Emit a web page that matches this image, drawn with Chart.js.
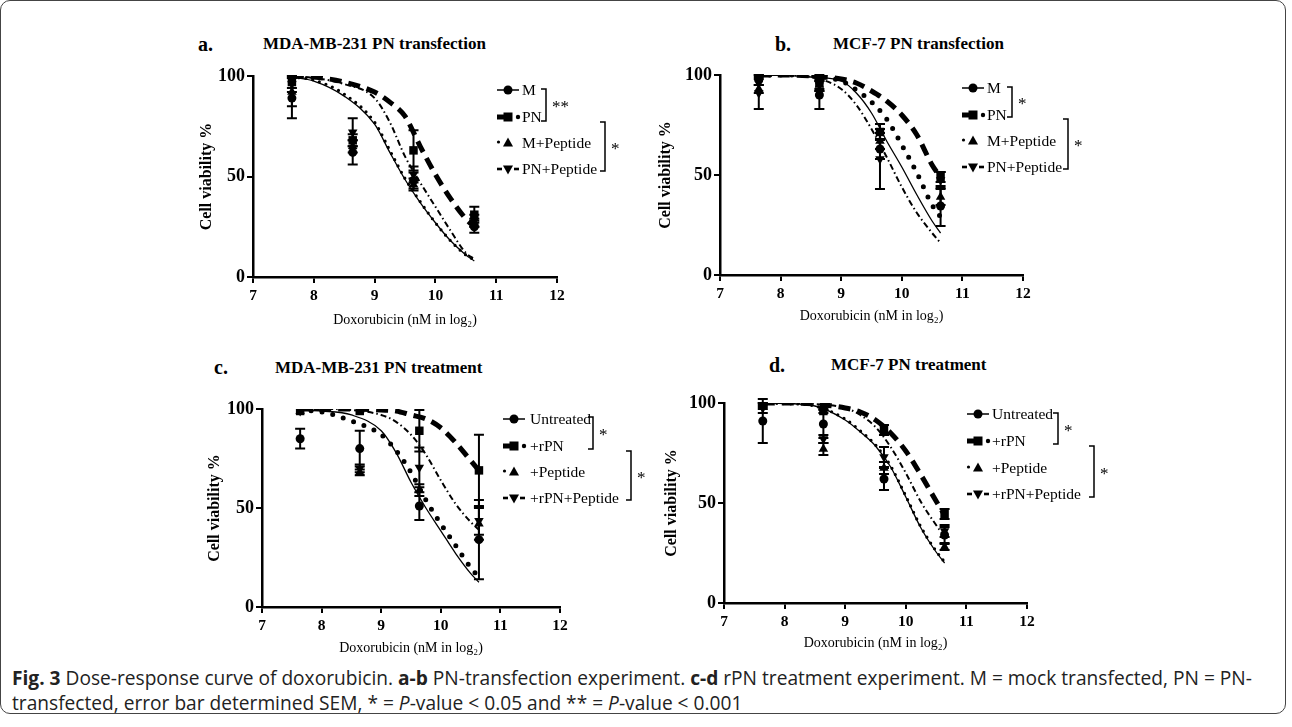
<!DOCTYPE html>
<html><head><meta charset="utf-8">
<script src="https://cdn.jsdelivr.net/npm/chart.js@4.4.0/dist/chart.umd.min.js"></script>
<style>
html,body{margin:0;padding:0;background:#fff;}
body{width:1292px;height:727px;position:relative;overflow:hidden;}
canvas{position:absolute;}
.ptitle{position:absolute;font-family:"Liberation Serif",serif;font-weight:bold;font-size:17px;white-space:nowrap;line-height:20px;height:20px;color:#000;}
.plet{position:absolute;font-family:"Liberation Serif",serif;font-weight:bold;font-size:20px;line-height:20px;height:20px;color:#000;}
#frame{position:absolute;left:0px;top:0px;width:1286px;height:714px;border:1px solid #444;border-radius:10px;box-sizing:border-box;}
.cap{position:absolute;left:12px;font-family:"Open Sans","Noto Sans",sans-serif;white-space:nowrap;color:#222;line-height:22px;font-size:15px;}
</style></head><body>
<div id="frame"></div>
<div class="plet" style="left:198px;top:34px">a.</div>
<div class="ptitle" style="left:263px;top:34px">MDA-MB-231 PN transfection</div>
<div class="plet" style="left:775px;top:34px">b.</div>
<div class="ptitle" style="left:833px;top:34px">MCF-7 PN transfection</div>
<div class="plet" style="left:214px;top:357px">c.</div>
<div class="ptitle" style="left:275px;top:358px">MDA-MB-231 PN treatment</div>
<div class="plet" style="left:769px;top:355px">d.</div>
<div class="ptitle" style="left:831px;top:355px">MCF-7 PN treatment</div>
<canvas id="ca"></canvas><canvas id="cb"></canvas><canvas id="cc"></canvas><canvas id="cd"></canvas>
<div class="cap" id="cap1" style="top:667px"><b>Fig. 3</b> Dose-response curve of doxorubicin. <b>a-b</b> PN-transfection experiment. <b>c-d</b> rPN treatment experiment. M = mock transfected, PN = PN-</div>
<div class="cap" id="cap2" style="top:692px">transfected, error bar determined SEM, * = <i>P</i>-value &lt; 0.05 and ** = <i>P</i>-value &lt; 0.001</div>
<script>
// ---------- DATA ----------
const doseX = [7.64, 8.64, 9.64, 10.64];
const curveX = [7.64, 8.0, 8.5, 9.0, 9.25, 9.5, 9.75, 10.0, 10.25, 10.5, 10.64];
const xTickValues = [7, 8, 9, 10, 11, 12];
const yTickValues = [0, 50, 100];
const xTitle = 'Doxorubicin (nM in log\u2082)';
const yTitle = 'Cell viability %';

// Panel a: MDA-MB-231 PN transfection
const aLabels = ['M', 'PN', 'M+Peptide', 'PN+Peptide'];
const aM = [89, 62, 48, 25];      const aM_err = [10, 6, 4, 3];
const aPN = [97, 68, 63, 31];     const aPN_err = [3, 3, 10, 4];
const aMP = [92, 65, 46, 27];     const aMP_err = [7, 3, 3, 2];
const aPNP = [96, 72, 51, 28];    const aPNP_err = [4, 7, 4, 3];
const aM_fit = [99.5, 97.5, 90, 76, 62, 48.5, 37, 27, 18, 11, 8];
const aPN_fit = [100, 99.5, 97, 92, 87, 80, 65, 51, 39, 29, 25];
const aMP_fit = [99.5, 98, 91, 77, 63, 49, 37.5, 27, 18, 11, 8.5];
const aPNP_fit = [100, 99, 96, 89, 77, 60, 47, 35, 23, 12, 9];

// Panel b: MCF-7 PN transfection
const bLabels = ['M', 'PN', 'M+Peptide', 'PN+Peptide'];
const bM = [97.5, 90, 63, 34.5];  const bM_err = [2.5, 7, 5, 10];
const bPN = [99, 96, 71.5, 49];   const bPN_err = [1, 4, 4, 2.5];
const bMP = [93, 95, 67, 39];     const bMP_err = [2, 2, 4, 4];
const bPNP = [91, 95, 58, 47.5];  const bPNP_err = [8, 3, 15, 4];
const bM_fit = [100, 99.8, 99, 97, 91, 81, 67, 54, 40, 27, 21];
const bPN_fit = [100, 100, 99.5, 98, 96, 92, 87, 80, 70, 55, 49];
const bMP_fit = [100, 100, 99.5, 97, 92.5, 86.5, 78, 65, 51, 35, 29];
const bPNP_fit = [100, 100, 99, 93, 85, 73, 59, 44, 31, 21, 16];

// Panel c: MDA-MB-231 PN treatment
const cLabels = ['Untreated', '+rPN', '+Peptide', '+rPN+Peptide'];
const cU = [85, 80, 51, 34];      const cU_err = [5, 9, 7, 20];
const crPN = [99, 99, 89, 69];    const crPN_err = [0, 0, 10.5, 18];
const cP = [99, 68, 59, 42];      const cP_err = [0, 1.5, 3, 8];
const crPNP = [99, 70, 70.5, 43.5]; const crPNP_err = [0, 2, 10, 7];
const cU_fit = [99.5, 99, 97, 89, 78, 63, 50, 38.5, 27, 17, 12.5];
const crPN_fit = [100, 100, 100, 99.5, 99, 97, 95, 90.5, 83, 74, 69];
const cP_fit = [99.5, 98.5, 94, 87, 79, 68, 54, 42, 31, 20, 15];
const crPNP_fit = [100, 100, 99.5, 97, 93.5, 87, 77, 64, 52, 43, 39];

// Panel d: MCF-7 PN treatment
const dLabels = ['Untreated', '+rPN', '+Peptide', '+rPN+Peptide'];
const dU = [91, 89.5, 62, 34];    const dU_err = [11, 7, 5.5, 4];
const drPN = [99, 96, 86.5, 44.5]; const drPN_err = [1, 1, 2.5, 2.5];
const dP = [98, 77, 67.5, 28];    const dP_err = [1, 3, 3, 1.5];
const drPNP = [97.5, 82, 73, 36]; const drPNP_err = [2.5, 2, 5, 3];
const dU_fit = [100, 99.7, 98.5, 91.5, 85.5, 78.5, 68, 53, 37.5, 25.5, 20];
const drPN_fit = [100, 100, 99.5, 97.5, 95.5, 91.5, 85, 76, 64, 51, 44];
const dP_fit = [100, 99.7, 98.5, 92, 86, 79, 68.5, 53.5, 38, 26, 20.5];
const drPNP_fit = [100, 100, 99.5, 97.5, 94, 88, 78, 65, 50.5, 39, 33];

// ---------- STYLES ----------
const SERIF = '"Liberation Serif", "Times New Roman", serif';
function lineStyles(bigDots) {
  return {
    solid:   {lw: 1.3, dash: [], cap: 'butt'},
    dash:    {lw: 5, dash: [12, 7], cap: 'butt'},
    dot:     bigDots ? {lw: 5, dash: [0, 11], cap: 'round'} : {lw: 3.2, dash: [0, 7], cap: 'round'},
    dashdot: {lw: 2, dash: [6, 3, 1.5, 3], cap: 'butt'}
  };
}
const markers = [
  {style: 'circle', rot: 0, r: 4.5, kind: 'circle'},
  {style: 'rect', rot: 0, r: 6, kind: 'rect'},
  {style: 'triangle', rot: 0, r: 5.5, kind: 'tri'},
  {style: 'triangle', rot: 180, r: 5.5, kind: 'tridown'}
];
const lineKinds = ['solid', 'dash', 'dot', 'dashdot'];

function drawMarker(ctx, kind, x, y) {
  ctx.beginPath();
  if (kind === 'circle') { ctx.arc(x, y, 4.5, 0, Math.PI * 2); }
  else if (kind === 'rect') { ctx.rect(x - 4.5, y - 4.5, 9, 9); }
  else if (kind === 'tri') { ctx.moveTo(x, y - 5.5); ctx.lineTo(x + 5, y + 3.5); ctx.lineTo(x - 5, y + 3.5); ctx.closePath(); }
  else { ctx.moveTo(x, y + 5.5); ctx.lineTo(x + 5, y - 3.5); ctx.lineTo(x - 5, y - 3.5); ctx.closePath(); }
  ctx.fill();
}

function legendSymbol(ctx, i, x0, y) {
  ctx.save();
  ctx.fillStyle = '#000'; ctx.strokeStyle = '#000';
  if (i === 0) {
    ctx.lineWidth = 1.5; ctx.beginPath(); ctx.moveTo(x0, y); ctx.lineTo(x0 + 22, y); ctx.stroke();
    drawMarker(ctx, 'circle', x0 + 11, y);
  } else if (i === 1) {
    ctx.fillRect(x0, y - 2.5, 8, 5);
    drawMarker(ctx, 'rect', x0 + 11, y);
    ctx.beginPath(); ctx.arc(x0 + 21, y, 2.2, 0, Math.PI * 2); ctx.fill();
  } else if (i === 2) {
    ctx.beginPath(); ctx.arc(x0 + 1.5, y - 1, 1.6, 0, Math.PI * 2); ctx.fill();
    drawMarker(ctx, 'tri', x0 + 11, y);
  } else {
    ctx.fillRect(x0, y - 1.3, 5, 2.6); ctx.fillRect(x0 + 17, y - 1.3, 5, 2.6);
    drawMarker(ctx, 'tridown', x0 + 11, y);
  }
  ctx.restore();
}

function decorPlugin(geo, deco) {
  return {
    id: 'decor',
    afterDatasetsDraw(chart) {
      const ctx = chart.ctx, xs = chart.scales.x, ys = chart.scales.y;
      ctx.save();
      ctx.strokeStyle = '#000'; ctx.lineWidth = 2;
      chart.data.datasets.forEach(ds => {
        if (!ds.yErr) return;
        ds.data.forEach((p, i) => {
          const e = ds.yErr[i]; if (!e) return;
          const px = xs.getPixelForValue(p.x);
          const y1 = ys.getPixelForValue(p.y + e), y2 = ys.getPixelForValue(p.y - e);
          ctx.beginPath();
          ctx.moveTo(px, y1); ctx.lineTo(px, y2);
          ctx.moveTo(px - 5, y1); ctx.lineTo(px + 5, y1);
          ctx.moveTo(px - 5, y2); ctx.lineTo(px + 5, y2);
          ctx.stroke();
        });
      });
      ctx.restore();
    },
    afterDraw(chart) {
      const ctx = chart.ctx;
      const ox = geo.L, oy = geo.T;
      ctx.save();
      ctx.font = '15.5px ' + SERIF; ctx.fillStyle = '#000'; ctx.textBaseline = 'middle'; ctx.textAlign = 'left';
      deco.labels.forEach((lab, i) => {
        const y = deco.rows[i] - oy;
        legendSymbol(ctx, i, deco.symX - ox, y);
        ctx.fillText(lab, deco.textX - ox, y + 1);
      });
      ctx.strokeStyle = '#000'; ctx.lineWidth = 1.5;
      deco.brackets.forEach(b => {
        ctx.beginPath();
        ctx.moveTo(b.x - 5 - ox, b.y1 - oy); ctx.lineTo(b.x - ox, b.y1 - oy);
        ctx.lineTo(b.x - ox, b.y2 - oy); ctx.lineTo(b.x - 5 - ox, b.y2 - oy);
        ctx.stroke();
        ctx.font = '17px ' + SERIF;
        ctx.fillText(b.star, b.x + 6 - ox, (b.y1 + b.y2) / 2 + 3 - oy);
      });
      ctx.restore();
    }
  };
}

function buildPanel(id, geo, labels, ys, errs, fits, bigDots, deco) {
  const canvas = document.getElementById(id);
  canvas.width = geo.W; canvas.height = geo.H;
  canvas.style.left = geo.L + 'px'; canvas.style.top = geo.T + 'px';
  const lhY = 16 * 1.2, lhX = 14 * 1.2;
  const padLeft = geo.yTitleX - geo.L - lhY / 2;
  const yW = (geo.l - geo.L) - padLeft;
  const padTop = geo.t - geo.T;
  const padRight = geo.L + geo.W - geo.r;
  const padBottom = geo.T + geo.H - geo.xTitleY - lhX / 2;
  const xH = (geo.T + geo.H - geo.b) - padBottom;
  const LS = lineStyles(bigDots);
  const datasets = [];
  labels.forEach((lab, k) => {
    const st = LS[lineKinds[k]];
    datasets.push({
      label: lab + ' fit', data: curveX.map((x, i) => ({x, y: fits[k][i]})),
      showLine: true, pointRadius: 0, borderColor: '#000', borderWidth: st.lw,
      borderDash: st.dash, borderCapStyle: st.cap, fill: false,
      cubicInterpolationMode: 'monotone', order: 2
    });
  });
  labels.forEach((lab, k) => {
    const m = markers[k];
    datasets.push({
      label: lab, data: doseX.map((x, i) => ({x, y: ys[k][i]})),
      showLine: false, pointStyle: m.style, rotation: m.rot, pointRadius: m.r,
      backgroundColor: '#000', borderColor: '#000', borderWidth: 0,
      yErr: errs[k], order: 1
    });
  });
  new Chart(canvas, {
    type: 'line',
    data: {datasets},
    options: {
      responsive: false, animation: false, devicePixelRatio: 1,
      layout: {padding: {left: padLeft, top: padTop, right: padRight, bottom: padBottom}},
      plugins: {legend: {display: false}, tooltip: {enabled: false}},
      scales: {
        x: {
          type: 'linear', min: 7, max: 12,
          afterBuildTicks: s => { s.ticks = xTickValues.map(v => ({value: v})); },
          afterFit: s => { s.height = xH; },
          ticks: {color: '#000', padding: 3.5, font: {family: SERIF, size: 15.5, weight: 'bold'}, maxRotation: 0},
          grid: {drawOnChartArea: false, drawTicks: true, tickLength: 6, color: '#000', lineWidth: 2},
          border: {display: true, color: '#000', width: 2.5},
          title: {display: true, text: xTitle, color: '#000', padding: 0, font: {family: SERIF, size: 14, lineHeight: 1.2}}
        },
        y: {
          type: 'linear', min: 0, max: 100,
          afterBuildTicks: s => { s.ticks = yTickValues.map(v => ({value: v})); },
          afterFit: s => { s.width = yW; },
          ticks: {color: '#000', padding: 2, font: {family: SERIF, size: 18, weight: 'bold'}},
          grid: {drawOnChartArea: false, drawTicks: true, tickLength: 6, color: '#000', lineWidth: 2},
          border: {display: true, color: '#000', width: 2.5},
          title: {display: true, text: yTitle, color: '#000', padding: 0, font: {family: SERIF, size: 16, weight: 'bold', lineHeight: 1.2}}
        }
      }
    },
    plugins: [decorPlugin(geo, deco)]
  });
}

buildPanel('ca', {L: 170, T: 50, W: 480, H: 285, l: 253, r: 557, t: 76, b: 277, yTitleX: 207, xTitleY: 320},
  aLabels, [aM, aPN, aMP, aPNP], [aM_err, aPN_err, aMP_err, aPNP_err], [aM_fit, aPN_fit, aMP_fit, aPNP_fit], false,
  {labels: aLabels, rows: [90, 117, 143, 169], symX: 497, textX: 522,
   brackets: [{x: 546, y1: 89, y2: 121, star: '**'}, {x: 605, y1: 122, y2: 171, star: '*'}]});

buildPanel('cb', {L: 640, T: 50, W: 480, H: 285, l: 720, r: 1023, t: 75, b: 275, yTitleX: 666, xTitleY: 316},
  bLabels, [bM, bPN, bMP, bPNP], [bM_err, bPN_err, bMP_err, bPNP_err], [bM_fit, bPN_fit, bMP_fit, bPNP_fit], true,
  {labels: bLabels, rows: [88, 115, 141, 167], symX: 962, textX: 987,
   brackets: [{x: 1012, y1: 87, y2: 117, star: '*'}, {x: 1068, y1: 119, y2: 169, star: '*'}]});

buildPanel('cc', {L: 180, T: 385, W: 480, H: 280, l: 262, r: 560, t: 409, b: 607, yTitleX: 215, xTitleY: 648},
  cLabels, [cU, crPN, cP, crPNP], [cU_err, crPN_err, cP_err, crPNP_err], [cU_fit, crPN_fit, cP_fit, crPNP_fit], true,
  {labels: cLabels, rows: [419, 446, 472, 498], symX: 503, textX: 530,
   brackets: [{x: 593, y1: 417, y2: 449, star: '*'}, {x: 631, y1: 451, y2: 500, star: '*'}]});

buildPanel('cd', {L: 640, T: 380, W: 480, H: 280, l: 724, r: 1027, t: 403, b: 603, yTitleX: 672, xTitleY: 643},
  dLabels, [dU, drPN, dP, drPNP], [dU_err, drPN_err, dP_err, drPNP_err], [dU_fit, drPN_fit, dP_fit, drPNP_fit], false,
  {labels: dLabels, rows: [414, 441, 468, 494], symX: 967, textX: 992,
   brackets: [{x: 1058, y1: 413, y2: 444, star: '*'}, {x: 1094, y1: 446, y2: 497, star: '*'}]});

// fit caption width to reference line length
(function () {
  const c1 = document.getElementById('cap1'), c2 = document.getElementById('cap2');
  const w = c1.getBoundingClientRect().width;
  const fs = 15 * 1241 / w;
  c1.style.fontSize = fs + 'px'; c2.style.fontSize = fs + 'px';
})();
</script>
</body></html>
